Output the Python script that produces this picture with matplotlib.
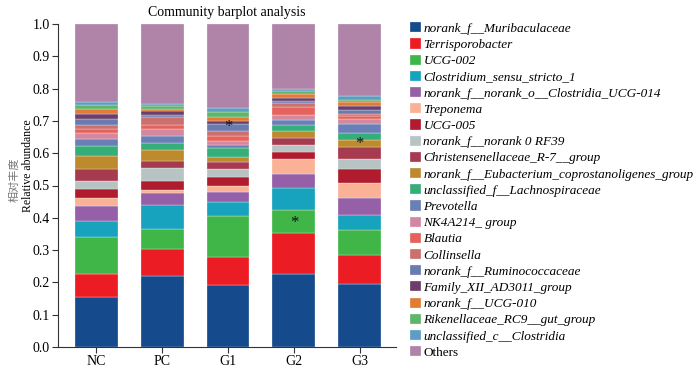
import matplotlib
matplotlib.use("Agg")
import matplotlib.pyplot as plt
import numpy as np

groups = ["NC", "PC", "G1", "G2", "G3"]

taxa = [
    "norank_f__Muribaculaceae",
    "Terrisporobacter",
    "UCG-002",
    "Clostridium_sensu_stricto_1",
    "norank_f__norank_o__Clostridia_UCG-014",
    "Treponema",
    "UCG-005",
    "norank_f__norank 0 RF39",
    "Christensenellaceae_R-7__group",
    "norank_f__Eubacterium_coprostanoligenes_group",
    "unclassified_f__Lachnospiraceae",
    "Prevotella",
    "NK4A214_ group",
    "Blautia",
    "Collinsella",
    "norank_f__Ruminococcaceae",
    "Family_XII_AD3011_group",
    "norank_f__UCG-010",
    "Rikenellaceae_RC9__gut_group",
    "unclassified_c__Clostridia",
    "Others",
]

colors = [
    "#154A8C", "#EC1C24", "#40B649", "#17A2BE", "#9560A7", "#FBB196",
    "#B01C2D", "#B8C3C3", "#A63A4F", "#BD8B2E", "#35AE7A", "#6A7FB5",
    "#D488A0", "#E5635C", "#CC706E", "#6A7BAE", "#6C3E6C", "#E37B35",
    "#5EB66C", "#5F9CC2", "#B083A8",
]

NC = [0.154, 0.073, 0.115, 0.047, 0.048, 0.024, 0.029, 0.024, 0.037, 0.039,
      0.033, 0.022, 0.018, 0.012, 0.013, 0.018, 0.016, 0.014, 0.012, 0.009]
PC = [0.221, 0.082, 0.061, 0.075, 0.037, 0.010, 0.029, 0.040, 0.021, 0.034,
      0.021, 0.022, 0.021, 0.014, 0.023, 0.007, 0.013, 0.007, 0.008, 0.006]
G1 = [0.192, 0.087, 0.127, 0.044, 0.030, 0.019, 0.026, 0.025, 0.022, 0.017,
      0.026, 0.010, 0.014, 0.014, 0.015, 0.022, 0.011, 0.012, 0.015, 0.011]
G2 = [0.227, 0.126, 0.071, 0.069, 0.042, 0.046, 0.023, 0.022, 0.022, 0.022,
      0.016, 0.017, 0.014, 0.027, 0.010, 0.007, 0.010, 0.012, 0.009, 0.008]
G3 = [0.196, 0.090, 0.076, 0.048, 0.052, 0.047, 0.041, 0.031, 0.038, 0.023,
      0.022, 0.025, 0.017, 0.009, 0.007, 0.011, 0.012, 0.013, 0.008, 0.010]

series = [NC, PC, G1, G2, G3]
data = np.array([s + [1.0 - sum(s)] for s in series]).T  # taxa x groups

star_groups = [2, 3, 4]
star_y = [0.68, 0.385, 0.628]

serif = ["Liberation Serif", "DejaVu Serif"]

fig = plt.figure(figsize=(7.0, 3.69), dpi=100)
ax = fig.add_axes([58 / 700, 1 - 347 / 369, (396 - 58) / 700, (347 - 24) / 369])

x = np.arange(len(groups))
bottom = np.zeros(len(groups))
handles = []
for i, name in enumerate(taxa):
    h = ax.bar(x, data[i], 0.65, bottom=bottom, color=colors[i],
               edgecolor="white", linewidth=0.2, label=name)
    handles.append(h)
    bottom += data[i]

for g, yv in zip(star_groups, star_y):
    ax.text(g, yv, "*", ha="center", va="center", fontsize=12,
            family=serif, color="#111111")

ax.set_xlim(-0.58, 4.55)
ax.set_ylim(0, 1.0)
ax.set_yticks(np.arange(0, 1.01, 0.1))
ax.set_yticklabels([f"{v:.1f}" for v in np.arange(0, 1.01, 0.1)],
                   family=serif, fontsize=10)
ax.set_xticks(x)
ax.set_xticklabels(groups, family=serif, fontsize=10)
ax.spines["top"].set_visible(False)
ax.spines["right"].set_visible(False)
ax.spines["left"].set_color("#333333")
ax.spines["bottom"].set_color("#333333")
ax.tick_params(axis="both", length=4, width=0.8, color="#333333", pad=2)

ax.set_title("Community barplot analysis", family=serif, fontsize=10, pad=6)

fig.text(15 / 700, 1 - 180 / 369, "相对丰度", rotation=90, ha="center", va="center",
         family=["Noto Sans CJK SC", "DejaVu Sans"], fontsize=8, color="#777777")
fig.text(28 / 700, 1 - 166 / 369, "Relative abundance", rotation=90, ha="center",
         va="center", family=serif, fontsize=8.5)

leg = fig.legend(handles=handles, labels=taxa, loc="upper left",
                 bbox_to_anchor=(405 / 700, 1 - 17 / 369), frameon=False,
                 prop={"family": serif, "style": "italic", "size": 9.5},
                 handlelength=0.8, handleheight=0.8, handletextpad=0.2,
                 labelspacing=0.27, borderaxespad=0)
for t in leg.get_texts():
    if t.get_text() == "Others":
        t.set_fontstyle("normal")

fig.savefig("out.png", dpi=100)
